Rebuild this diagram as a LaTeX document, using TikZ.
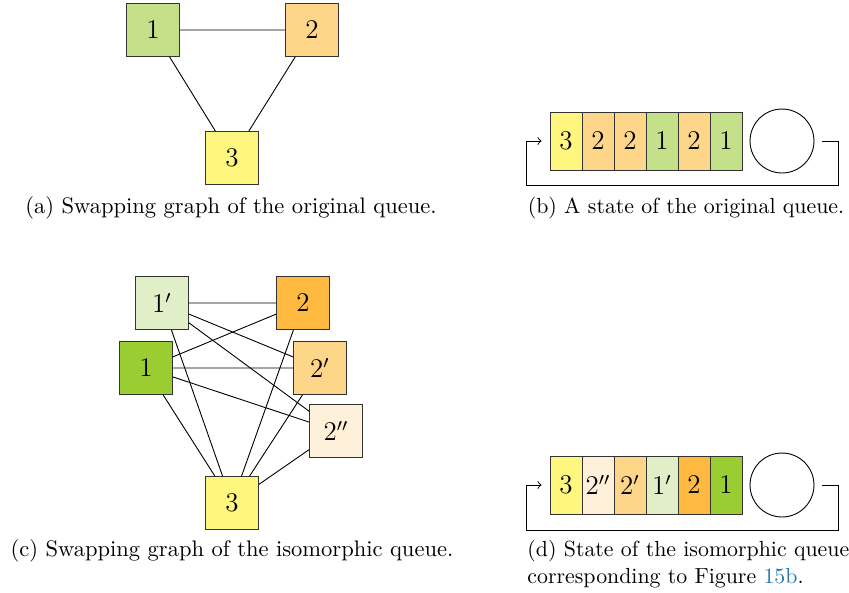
\documentclass[tikz,border=0pt]{standalone}
\usepackage{tikz}
\usetikzlibrary{calc}

\definecolor{greenA}{RGB}{196,224,136}
\definecolor{greenB}{RGB}{154,205,50}
\definecolor{greenC}{RGB}{225,239,200}
\definecolor{orangeA}{RGB}{254,214,138}
\definecolor{orangeB}{RGB}{253,185,64}
\definecolor{orangeC}{RGB}{255,240,217}
\definecolor{yellowA}{RGB}{255,246,128}
\definecolor{linkblue}{RGB}{31,119,180}

\tikzset{
  vertex/.style={draw=black!80, minimum size=23.5pt, inner sep=0pt, font=\large},
  cell/.style={draw=black!80, minimum width=14.2pt, minimum height=25.75pt, inner sep=0pt, font=\large},
  slot/.style={draw, circle, minimum size=28.4pt, inner sep=0pt},
  caption/.style={font=\normalsize, inner sep=0pt}
}

\begin{document}
\begin{tikzpicture}[x=0.444pt, y=-0.444pt]
\useasboundingbox (0,0) rectangle (849,592);

% (a) swapping graph, original queue
\node[vertex, fill=greenA] (a_1) at (153,30) {1};
\node[vertex, fill=orangeA] (a_2) at (312,30) {2};
\node[vertex, fill=yellowA] (a_3) at (232,158) {3};
\draw (a_1) -- (a_2) (a_1) -- (a_3) (a_2) -- (a_3);
\node[caption] (cap_a) at (231,208) {(a) Swapping graph of the original queue.};

% (b) state of the original queue
\node[cell, fill=yellowA] (b_1) at (566,141) {3};
\node[cell, fill=orangeA] (b_2) at (598,141) {2};
\node[cell, fill=orangeA] (b_3) at (630,141) {2};
\node[cell, fill=greenA]  (b_4) at (662,141) {1};
\node[cell, fill=orangeA] (b_5) at (694,141) {2};
\node[cell, fill=greenA]  (b_6) at (726,141) {1};
\node[slot] (b_slot) at (782,141) {};
\draw[->] ($(b_slot.east)+(8,0)$) -- ++(16,0) -- ++(0,44) -| ($(b_1.west)+(-23,0)$) -- ($(b_1.west)+(-8,0)$);
\node[caption, scale=0.97] (cap_b) at (686,208) {(b) A state of the original queue.};

% (c) swapping graph, isomorphic queue
\node[vertex, fill=greenC]  (c_1p) at (162,303) {$1'$};
\node[vertex, fill=orangeB] (c_2)  at (303,303) {2};
\node[vertex, fill=greenB]  (c_1)  at (146,368) {1};
\node[vertex, fill=orangeA] (c_2p) at (320,368) {$2'$};
\node[vertex, fill=orangeC] (c_2pp) at (336,431) {$2''$};
\node[vertex, fill=yellowA] (c_3)  at (232,503) {3};
\draw (c_1p) -- (c_2) (c_1p) -- (c_2p) (c_1p) -- (c_2pp) (c_1p) -- (c_3);
\draw (c_1) -- (c_2) (c_1) -- (c_2p) (c_1) -- (c_2pp) (c_1) -- (c_3);
\draw (c_2) -- (c_3) (c_2p) -- (c_3) (c_2pp) -- (c_3);
\node[caption] (cap_c) at (232,551) {(c) Swapping graph of the isomorphic queue.};

% (d) state of the isomorphic queue
\node[cell, fill=yellowA] (d_1) at (566,485) {3};
\node[cell, fill=orangeC] (d_2) at (598,485) {$2''$};
\node[cell, fill=orangeA] (d_3) at (630,485) {$2'$};
\node[cell, fill=greenC]  (d_4) at (662,485) {$1'$};
\node[cell, fill=orangeB] (d_5) at (694,485) {2};
\node[cell, fill=greenB]  (d_6) at (726,485) {1};
\node[slot] (d_slot) at (782,485) {};
\draw[->] ($(d_slot.east)+(8,0)$) -- ++(16,0) -- ++(0,45) -| ($(d_1.west)+(-23,0)$) -- ($(d_1.west)+(-8,0)$);
\node[caption, scale=0.97, anchor=west, align=left] (cap_d) at (527,564) {(d) State of the isomorphic queue\\corresponding to Figure \textcolor{linkblue}{15b}.};

\end{tikzpicture}
\end{document}
